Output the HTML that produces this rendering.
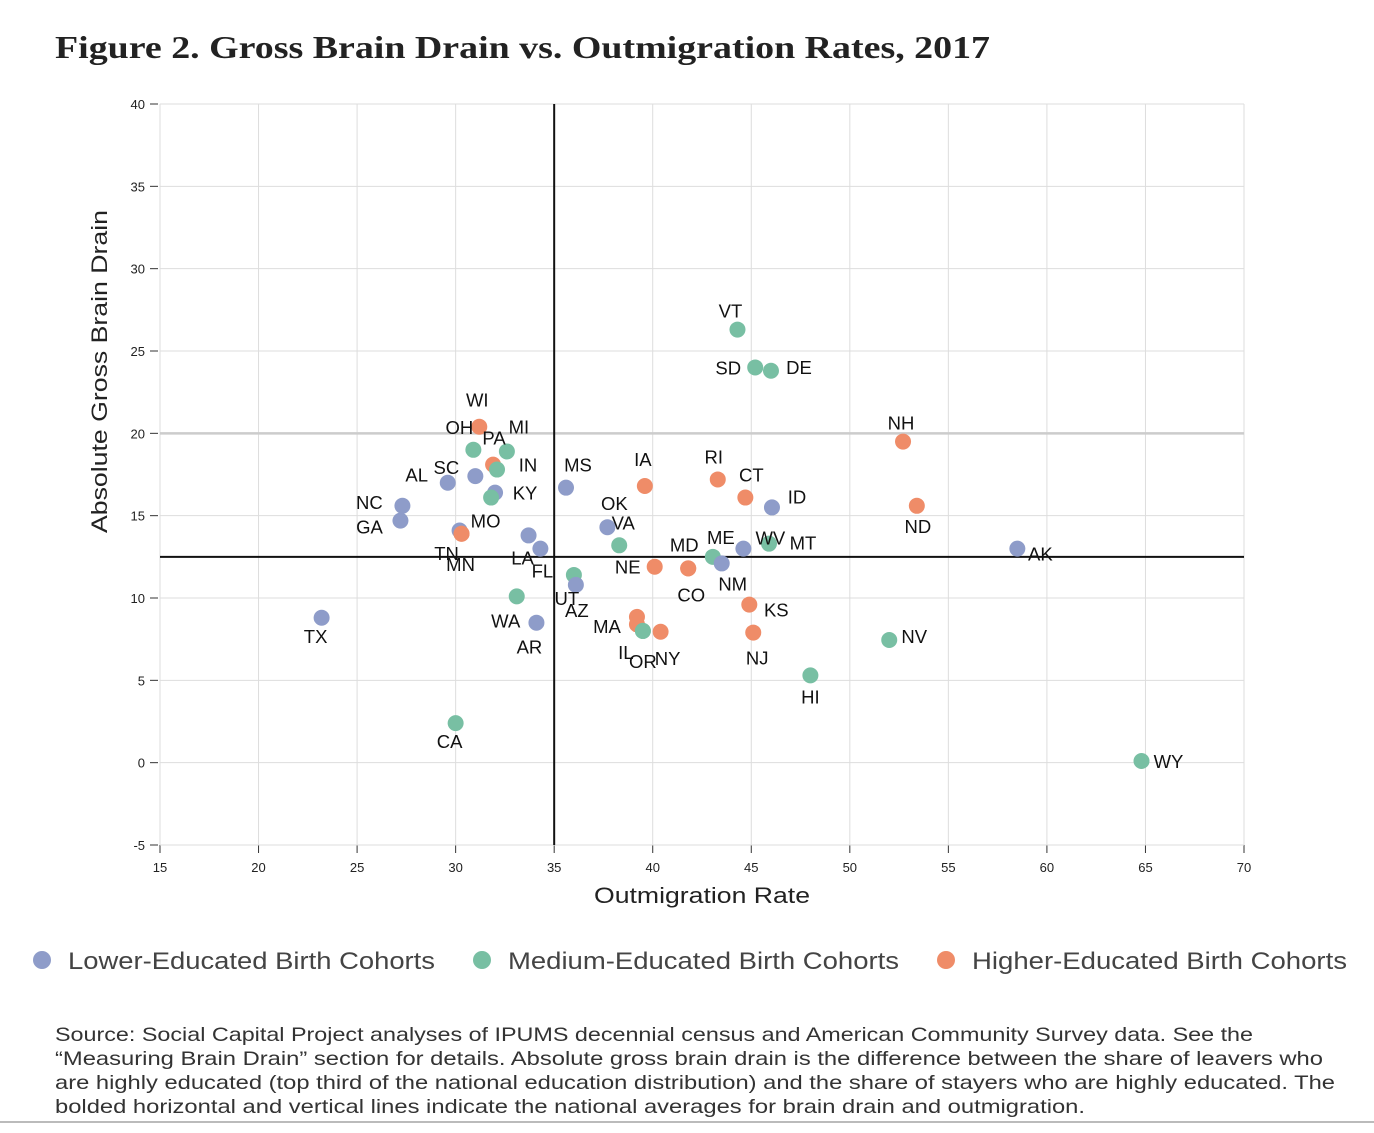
<!DOCTYPE html>
<html><head><meta charset="utf-8"><style>
body{margin:0;background:#fff;width:1374px;height:1128px;overflow:hidden;font-family:"Liberation Sans",sans-serif;}
</style></head><body>
<svg width="1374" height="1128" xmlns="http://www.w3.org/2000/svg" font-family="Liberation Sans, sans-serif">
<text x="55" y="58" font-family="Liberation Serif, serif" font-weight="bold" font-size="32" fill="#222" textLength="935" lengthAdjust="spacingAndGlyphs">Figure 2. Gross Brain Drain vs. Outmigration Rates, 2017</text>
<g id="grid"></g>
<g id="marks"></g>
<text x="594" y="903" font-size="22" fill="#222" textLength="216" lengthAdjust="spacingAndGlyphs">Outmigration Rate</text>
<text transform="translate(107,533) rotate(-90)" font-size="22" fill="#222" textLength="323" lengthAdjust="spacingAndGlyphs">Absolute Gross Brain Drain</text>
<g font-size="24" fill="#444">
<g><circle cx="42" cy="960" r="9" fill="#8e9cc9"/><text x="68" y="969" textLength="367" lengthAdjust="spacingAndGlyphs">Lower-Educated Birth Cohorts</text></g>
<g><circle cx="482" cy="960" r="9" fill="#78bfa3"/><text x="508" y="969" textLength="391" lengthAdjust="spacingAndGlyphs">Medium-Educated Birth Cohorts</text></g>
<g><circle cx="946" cy="960" r="9" fill="#ef8c68"/><text x="972" y="969" textLength="375" lengthAdjust="spacingAndGlyphs">Higher-Educated Birth Cohorts</text></g>
</g>
<g font-size="19.5" fill="#333" lengthAdjust="spacingAndGlyphs">
<text x="55" y="1041" textLength="1198" lengthAdjust="spacingAndGlyphs">Source: Social Capital Project analyses of IPUMS decennial census and American Community Survey data. See the</text>
<text x="55" y="1065" textLength="1268" lengthAdjust="spacingAndGlyphs">“Measuring Brain Drain” section for details. Absolute gross brain drain is the difference between the share of leavers who</text>
<text x="55" y="1089" textLength="1280" lengthAdjust="spacingAndGlyphs">are highly educated (top third of the national education distribution) and the share of stayers who are highly educated. The</text>
<text x="55" y="1113" textLength="1030" lengthAdjust="spacingAndGlyphs">bolded horizontal and vertical lines indicate the national averages for brain drain and outmigration.</text>
</g>
<line x1="0" y1="1122" x2="1374" y2="1122" stroke="#bbb" stroke-width="2"/>
</svg>
<script>
const xTicks=[15,20,25,30,35,40,45,50,55,60,65,70];
const yTicks=[-5,0,5,10,15,20,25,30,35,40];
const avgX=35, avgY=12.5;
const states=["TX","GA","NC","AL","SC","MO","TN","MN","WI","OH","MI","PA","IN","KY","","LA","FL","MS","UT","AZ","WA","AR","CA","OK","VA","IA","NE","CO","MD","MA","","IL","OR","NY","RI","CT","ID","ME","NM","WV","MT","KS","NJ","VT","SD","DE","NH","ND","AK","NV","HI","WY"];
const outRate=[23.2,27.2,27.3,29.6,31.0,30.2,30.3,30.3,31.2,30.9,32.6,31.9,32.1,32.0,31.8,33.7,34.3,35.6,36.0,36.1,33.1,34.1,30.0,37.7,38.3,39.6,40.1,41.8,41.8,39.2,39.2,39.5,39.5,40.4,43.3,44.7,46.05,43.05,43.5,44.6,45.9,44.9,45.1,44.3,45.2,46.0,52.7,53.4,58.5,52.0,48.0,64.8];
const brainDrain=[8.8,14.7,15.6,17.0,17.4,14.1,13.9,13.9,20.4,19.0,18.9,18.1,17.8,16.4,16.1,13.8,13.0,16.7,11.4,10.8,10.1,8.5,2.4,14.3,13.2,16.8,11.9,11.8,11.8,8.85,8.4,8.0,8.0,7.95,17.2,16.1,15.5,12.5,12.1,13.0,13.3,9.6,7.9,26.3,24.0,23.8,19.5,15.6,13.0,7.45,5.3,0.1];
const cohort=["L","L","L","L","L","L","H","H","H","M","M","H","M","L","M","L","L","L","M","L","M","L","M","L","M","H","H","H","H","H","H","M","M","H","H","H","L","M","L","L","M","H","H","M","M","M","H","H","L","M","M","M"];
const labelDx=[-6,-31,-33,-31,-29,26,-15,-1,-2,-14,12,1,31,30,0,-6,2,12,-7,1,-11,-7,-6,7,4,-2,-27,3,-4,-30,0,-17,0,7,-4,6,25,8,11,27,34,27,4,-7,-27,28,-2,1,23,25,0,27];
const labelDy=[19,7,-3,-7,-8,-9,20,31,-26,-22,-24,-26,-4,1,0,23,23,-22,24,26,25,25,19,-23,-22,-26,1,27,-23,10,0,22,31,27,-22,-22,-10,-19,21,-10,0,6,26,-18,1,-3,-18,21,6,-3,22,1];
const colors={L:"#8e9cc9",M:"#78bfa3",H:"#ef8c68"};
const NS="http://www.w3.org/2000/svg";
const x0=160,x1=1244,yTop=104,yBot=845;
const sx=v=>x0+(v-15)/(70-15)*(x1-x0);
const sy=v=>yBot-(v+5)/(40+5)*(yBot-yTop);
function mk(tag,attrs,parent){const e=document.createElementNS(NS,tag);for(const k in attrs)e.setAttribute(k,attrs[k]);parent.appendChild(e);return e;}
const g=document.getElementById('grid');
xTicks.forEach(t=>{
 const l=mk('line',{x1:sx(t),x2:sx(t),y1:yTop,y2:yBot,stroke:'#ddd','stroke-width':1},g);
 
 
 const tk=mk('line',{x1:sx(t),x2:sx(t),y1:yBot,y2:yBot+8,stroke:'#333'},g);
 
 
 const tx=mk('text',{x:sx(t),y:yBot+27,'text-anchor':'middle','font-size':13,fill:'#222'},g);
 
 
 tx.textContent=t;
});
yTicks.forEach(t=>{
 const l=mk('line',{x1:x0,x2:x1,y1:sy(t),y2:sy(t),stroke:t===20?'#ccc':'#ddd','stroke-width':t===20?2.5:1},g);
 
 
 const tk=mk('line',{x1:x0-10,x2:x0-2,y1:sy(t),y2:sy(t),stroke:'#333'},g);
 
 
 const tx=mk('text',{x:x0-15,y:sy(t)+5,'text-anchor':'end','font-size':13,fill:'#222'},g);
 
 
 tx.textContent=t;
});
const av1=mk('line',{x1:sx(avgX),x2:sx(avgX),y1:yTop,y2:yBot,stroke:'#111','stroke-width':2},g);


const av2=mk('line',{x1:x0,x2:x1,y1:sy(avgY),y2:sy(avgY),stroke:'#111','stroke-width':2},g);


const m=document.getElementById('marks');
states.forEach((s,i)=>{
 const cx=sx(outRate[i]),cy=sy(brainDrain[i]);
 const c=mk('circle',{cx:cx,cy:cy,r:8,fill:colors[cohort[i]]},m);
 
 
});
states.forEach((s,i)=>{
 if(!s)return;
 const cx=sx(outRate[i]),cy=sy(brainDrain[i]);
 const t=mk('text',{x:cx+labelDx[i],y:cy+labelDy[i]+6,'text-anchor':'middle','font-size':18.5,fill:'#111'},m);
 
 
 t.textContent=s;
});
</script>
</body></html>
